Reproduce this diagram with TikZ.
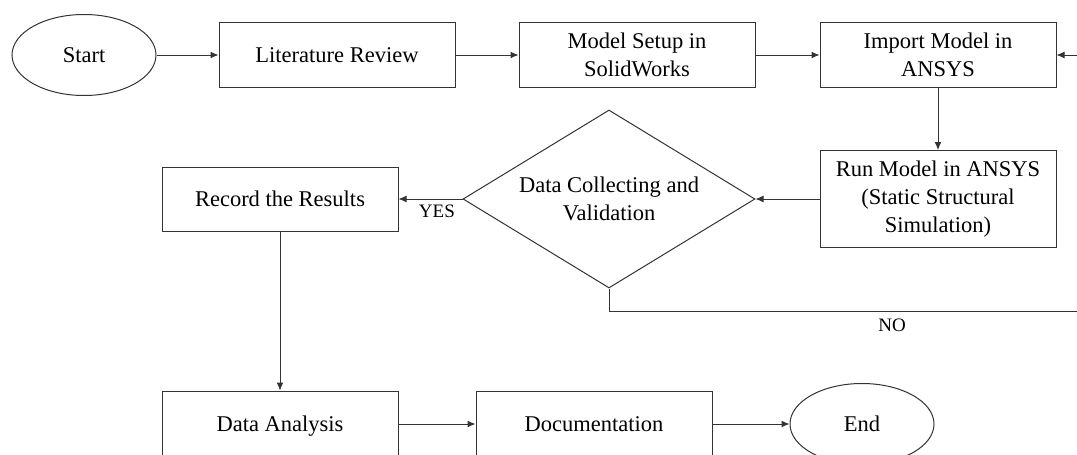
\documentclass[tikz,border=0pt]{standalone}
\usepackage{fontspec}
\setmainfont{Liberation Serif}
\usetikzlibrary{shapes.geometric,arrows.meta}

\begin{document}
\begin{tikzpicture}[
			x=1pt, y=-1pt
			,every node/.append style={draw=black!80, line width=1pt, align=center, inner sep=0pt, font=\fontsize{22.5}{28}\selectfont}
			,term/.style={ellipse, minimum width=144pt, minimum height=81pt}
			,proc/.style={rectangle, minimum width=236pt, minimum height=65pt}
			,dec/.style={diamond, aspect=1.64, minimum width=292pt, minimum height=178pt}
			,one/.style={text height=17pt, text depth=3pt}
			,lbl/.style={draw=none, font=\fontsize{19}{23}\selectfont}
			,line/.style={draw=black!80, line width=1pt}
			,flow/.style={line, -{Latex[length=8pt,width=7pt]}}
		]
			\path [use as bounding box, clip] (0,0) rectangle (1077,455);

			\node [term, one] (S) at (84,55) {Start};
			\node [proc, one] (LR) at (337,55) {Literature Review};
			\node [proc] (MS) at (637,55) {Model Setup in\\SolidWorks};
			\node [proc] (IM) at (938,55) {Import Model in\\ANSYS};
			\node [proc, minimum height=97pt] (RM) at (938,199) {Run Model in ANSYS\\(Static Structural\\Simulation)};
			\node [dec] (DV) at (609,199) {Data Collecting and\\Validation};
			\node [proc, one, minimum height=64pt] (RR) at (280,199) {Record the Results};
			\node [proc, one, minimum height=66pt] (DA) at (280,424) {Data Analysis};
			\node [proc, one, minimum height=66pt] (DC) at (594,424) {Documentation};
			\node [term, one] (E) at (862,424) {End};

			\coordinate (RE) at (1077,55);
			\coordinate (NB) at (609,311);
			\coordinate (NR) at (1077,311);

			\draw [flow] (S) -- (LR);
			\draw [flow] (LR) -- (MS);
			\draw [flow] (MS) -- (IM);
			\draw [flow] (RE) -- (IM);
			\draw [flow] (IM) -- (RM);
			\draw [flow] (RM) -- (DV);
			\draw [flow] (DV) -- node [lbl, below=5pt, pos=.4] {YES} (RR);
			\draw [line] (DV.south) -- (NB) -- node [lbl, below=7pt, pos=.605] {NO} (NR);
			\draw [flow] (RR) -- (DA);
			\draw [flow] (DA) -- (DC);
			\draw [flow] (DC) -- (E);
		\end{tikzpicture}
\end{document}
